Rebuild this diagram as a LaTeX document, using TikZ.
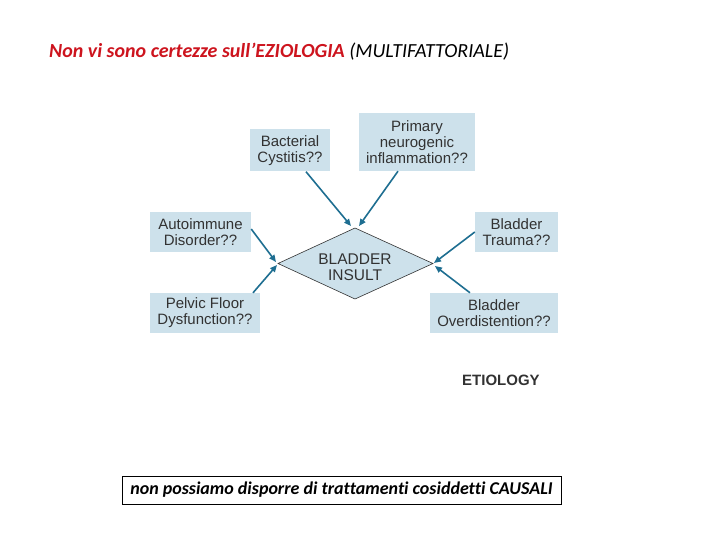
\documentclass[tikz,border=0pt]{standalone}
\usepackage{fontspec}
\setmainfont{Liberation Sans}
\newfontfamily\calib[Ligatures=NoCommon]{Carlito}
\usetikzlibrary{arrows.meta}
\definecolor{boxblue}{RGB}{205,225,235}
\definecolor{arrowblue}{RGB}{30,110,145}
\definecolor{txtgray}{RGB}{50,50,50}
\definecolor{titlered}{RGB}{205,20,30}
\tikzset{
  cause/.style={fill=boxblue, draw=none, inner sep=0pt, align=center, text=txtgray,
    font=\fontsize{15}{16}\selectfont},
  link/.style={draw=arrowblue, line width=1.6pt, -{Triangle[length=7pt,width=6pt]}}
}
\begin{document}
\begin{tikzpicture}[x=1pt,y=-1pt]
\useasboundingbox (0,0) rectangle (720,540);
% title
\node[anchor=west, inner sep=0pt, font=\calib\fontsize{20}{22}\selectfont] (title) at (49,52)
  {\textcolor{titlered}{\bfseries\itshape Non vi sono certezze sull’EZIOLOGIA} \itshape (MULTIFATTORIALE)};
% boxes
\node[cause, minimum width=80pt, minimum height=42pt] (bact) at (290,150.5) {Bacterial\\Cystitis??};
\node[cause, minimum width=116pt, minimum height=58pt] (prim) at (417,142) {Primary\\neurogenic\\inflammation??};
\node[cause, minimum width=101pt, minimum height=40pt] (auto) at (200.5,232) {Autoimmune\\Disorder??};
\node[cause, minimum width=83pt, minimum height=40pt] (trau) at (516.5,232) {Bladder\\Trauma??};
\node[cause, minimum width=110pt, minimum height=40pt] (pelv) at (205,313) {Pelvic Floor\\Dysfunction??};
\node[cause, minimum width=128pt, minimum height=40pt] (over) at (494,313) {Bladder\\Overdistention??};
% diamond
\coordinate (dt) at (355,228);
\coordinate (dl) at (278,263.5);
\coordinate (dr) at (433,263.5);
\coordinate (db) at (355,299);
\filldraw[fill=boxblue, draw=black!80, line width=0.6pt] (dt) -- (dr) -- (db) -- (dl) -- cycle;
\node[align=center, text=txtgray, font=\fontsize{15.5}{16}\selectfont] (insult) at (355,267.5) {BLADDER\\INSULT};
% arrows
\coordinate (tbact) at (351,226);
\coordinate (tprim) at (359,226);
\coordinate (tauto) at (276,262);
\coordinate (tpelv) at (277,265);
\coordinate (ttrau) at (434,263);
\coordinate (tover) at (435,266);
\draw[link] ([xshift=16pt]bact.south) -- (tbact);
\draw[link] ([xshift=-19pt]prim.south) -- (tprim);
\draw[link] ([yshift=3pt]auto.east) -- (tauto);
\draw[link] ([xshift=48pt]pelv.north) -- (tpelv);
\draw[link] (trau.west) -- (ttrau);
\draw[link] ([xshift=-24pt]over.north) -- (tover);
% etiology label
\node[anchor=west, inner sep=0pt, text=txtgray, font=\bfseries\fontsize{15}{16}\selectfont] (etio) at (462,380.5) {ETIOLOGY};
% bottom box
\node[draw=black, line width=0.8pt, minimum width=439pt, minimum height=28pt, inner sep=0pt,
  font=\calib\bfseries\itshape\fontsize{18}{20}\selectfont] (causal) at (341.5,490)
  {non possiamo disporre di trattamenti cosiddetti CAUSALI};
\end{tikzpicture}
\end{document}
